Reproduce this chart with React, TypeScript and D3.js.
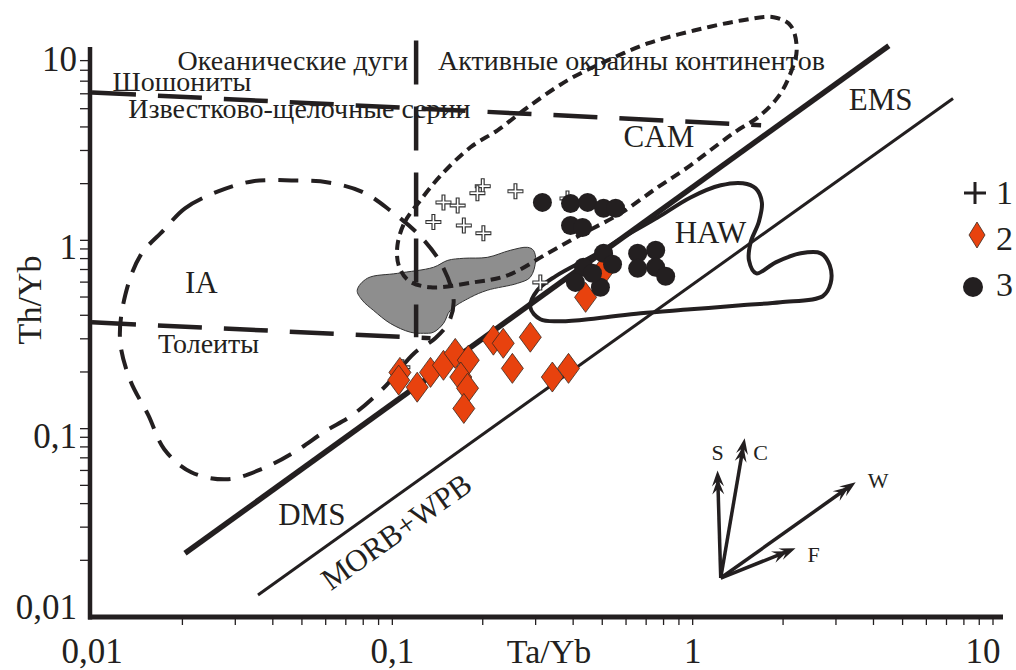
import React from "react";
import * as d3 from "d3";

type Pt = [number, number];

const WIDTH = 1016;
const HEIGHT = 670;
const SERIF = '"Liberation Serif", "Times New Roman", "DejaVu Serif", serif';
const INK = "#231f20";
const RED = "#e8420e";
const GREY = "#8e8e8e";

// axis ticks + labels
const xTicks = [0.01, 0.1, 1, 10];
const xTickLabels = ["0,01", "0,1", "1", "10"];
const yTicks = [0.01, 0.1, 1, 10];
const yTickLabels = ["0,01", "0,1", "1", "10"];
const xTitle = "Ta/Yb";
const yTitle = "Th/Yb";

// samples: [Ta/Yb, Th/Yb]
const group1: Pt[] = [
  [0.2, 1.94], [0.192, 1.78], [0.148, 1.59], [0.165, 1.53], [0.137, 1.25],
  [0.173, 1.2], [0.201, 1.09], [0.257, 1.82], [0.311, 0.598], [0.108, 0.212],
  [0.383, 1.67],
];
const group2: Pt[] = [
  [0.106, 0.199], [0.105, 0.181], [0.121, 0.166], [0.134, 0.199], [0.148, 0.217],
  [0.162, 0.251], [0.179, 0.231], [0.169, 0.188], [0.178, 0.164], [0.173, 0.128],
  [0.217, 0.295], [0.234, 0.284], [0.251, 0.209], [0.288, 0.306], [0.341, 0.188],
  [0.386, 0.209], [0.44, 0.498], [0.505, 0.693],
];
const group3: Pt[] = [
  [0.316, 1.59], [0.392, 1.57], [0.447, 1.59], [0.505, 1.48], [0.554, 1.48],
  [0.392, 1.2], [0.43, 1.17], [0.505, 0.853], [0.433, 0.719], [0.407, 0.598],
  [0.493, 0.563], [0.541, 0.746], [0.656, 0.853], [0.753, 0.885], [0.656, 0.71],
  [0.753, 0.719], [0.813, 0.644], [0.464, 0.668],
];

// fields
const iaField: Pt[] = [
  [0.0173, 1.13], [0.0204, 1.48], [0.0263, 1.82], [0.0344, 2.06], [0.0461, 2.08],
  [0.0612, 2.03], [0.08, 1.8], [0.099, 1.43], [0.124, 1.05], [0.147, 0.728],
  [0.16, 0.481], [0.154, 0.367], [0.139, 0.302], [0.118, 0.251], [0.0955, 0.17],
  [0.0736, 0.118], [0.0598, 0.097], [0.0471, 0.075], [0.0372, 0.0616], [0.0284, 0.0539],
  [0.0214, 0.0587], [0.0174, 0.0778], [0.0154, 0.118], [0.0134, 0.181], [0.0124, 0.295],
  [0.0129, 0.511], [0.0145, 0.832],
];
const camField: Pt[] = [
  [0.104, 0.941], [0.11, 1.25], [0.124, 1.63], [0.145, 2.21], [0.182, 3.12],
  [0.224, 3.84], [0.282, 5.08], [0.383, 7.07], [0.521, 9.02], [0.708, 11.1],
  [1.01, 13.0], [1.45, 14.7], [1.86, 15.3], [2.12, 13.8], [2.22, 10.2],
  [2.09, 7.33], [1.92, 5.74], [1.65, 4.5], [1.41, 3.84], [1.18, 3.12],
  [0.962, 2.44], [0.764, 1.91], [0.575, 1.39], [0.433, 1.09], [0.329, 0.853],
  [0.242, 0.652], [0.186, 0.598], [0.134, 0.563], [0.113, 0.613], [0.105, 0.737],
];
const hawField: Pt[] = [
  [0.288, 0.441], [0.304, 0.543], [0.349, 0.644], [0.482, 0.853], [0.589, 1.04],
  [0.764, 1.32], [0.984, 1.69], [1.24, 1.96], [1.47, 2.01], [1.62, 1.89],
  [1.7, 1.59], [1.66, 1.25], [1.56, 0.976], [1.54, 0.783], [1.63, 0.668],
  [1.89, 0.764], [2.29, 0.853], [2.67, 0.853], [2.86, 0.737], [2.88, 0.591],
  [2.71, 0.505], [1.96, 0.469], [1.45, 0.452], [0.984, 0.43], [0.671, 0.41],
  [0.482, 0.386], [0.363, 0.372], [0.311, 0.381],
];
const greyField: Pt[] = [
  [0.0764, 0.543], [0.0826, 0.629], [0.104, 0.668], [0.137, 0.719], [0.153, 0.783],
  [0.173, 0.803], [0.207, 0.812], [0.247, 0.885], [0.282, 0.918], [0.295, 0.885],
  [0.3, 0.783], [0.288, 0.637], [0.261, 0.591], [0.207, 0.543], [0.182, 0.498],
  [0.156, 0.425], [0.148, 0.362], [0.137, 0.325], [0.127, 0.321], [0.115, 0.325],
  [0.0985, 0.362], [0.0865, 0.425], [0.0794, 0.481],
];

// boundaries
const emsLine: Pt[] = [[0.0204, 0.0218], [4.5, 10.8]];
const morbLine: Pt[] = [[0.0357, 0.0131], [7.36, 5.67]];
const shoshoniteLine: Pt[] = [[0.01, 6.1], [1.69, 4.08]];
const tholeiiteLine: Pt[] = [[0.01, 0.367], [0.134, 0.302]];
const arcLine: Pt[] = [[0.12, 11.5], [0.12, 0.306]];

// process vectors
const vectorOrigin: Pt = [1.24, 0.0161];
const vectorNames = ["S", "C", "W", "F"];
const vectorTips: Pt[] = [[1.21, 0.06], [1.49, 0.089], [3.49, 0.052], [2.2, 0.0232]];

// field names (russian captions)
const captionNames = [
  "Океанические дуги", "Активные окраины континентов", "Шошониты",
  "Известково-щелочные серии", "Толеиты",
];
const captionAnchors: Pt[] = [
  [0.113, 7.99], [0.142, 7.99], [0.0117, 6.2], [0.0132, 4.44], [0.0166, 0.251],
];
// field abbreviations
const fieldNames = ["IA", "CAM", "EMS", "HAW", "DMS"];
const fieldAnchors: Pt[] = [
  [0.0204, 0.523], [0.589, 3.12], [3.31, 4.9], [0.871, 0.964], [0.0417, 0.0307],
];
const morbName = "MORB+WPB";
const morbAnchor: Pt = [0.108, 0.0256];

const legendNames = ["1", "2", "3"];

export default function App() {
  const x = d3.scaleLog().domain([0.01, 10]).range([92, 993]);
  const y = d3.scaleLog().domain([0.01, 10]).range([617, 52]);

  const line = d3.line<Pt>().x((d) => x(d[0])).y((d) => y(d[1]));
  const closed = d3
    .line<Pt>()
    .x((d) => x(d[0]))
    .y((d) => y(d[1]))
    .curve(d3.curveCatmullRomClosed.alpha(0.5));

  const minor: number[] = [];
  [0.01, 0.1, 1].forEach((dec) =>
    d3.range(1, 10).forEach((m) => minor.push(+(m * dec).toPrecision(3)))
  );
  const xMinor = minor.filter((v) => v > 0.01).concat([10]);
  const yMinor = minor.filter((v) => v > 0.01);

  const x0 = x(0.01) - 2;
  const yBase = y(0.01);

  const diamond = (cx: number, cy: number) =>
    `M${cx},${cy - 15}L${cx + 11},${cy}L${cx},${cy + 15}L${cx - 11},${cy}Z`;
  const cross = (cx: number, cy: number, r: number) =>
    `M${cx - r},${cy}H${cx + r}M${cx},${cy - r}V${cy + r}`;

  const ox = x(vectorOrigin[0]);
  const oy = y(vectorOrigin[1]);
  const head = (tx: number, ty: number, ux: number, uy: number) => {
    const nx = -uy, ny = ux;
    return `M${tx},${ty}L${tx - 16 * ux + 6 * nx},${ty - 16 * uy + 6 * ny}L${tx - 10 * ux},${ty - 10 * uy}L${tx - 16 * ux - 6 * nx},${ty - 16 * uy - 6 * ny}Z`;
  };
  const vecLabelOffset: Pt[] = [[0, -10], [16, 22], [12, 6], [12, 14]];
  const vecLabelAnchor = ["middle", "middle", "start", "start"];

  const mp0 = morbLine[0], mp1 = morbLine[1];
  const morbAngle =
    (Math.atan2(y(mp1[1]) - y(mp0[1]), x(mp1[0]) - x(mp0[0])) * 180) / Math.PI;

  return (
    <svg
      width={WIDTH}
      height={HEIGHT}
      style={{ position: "absolute", left: 0, top: 0, background: "#fff" }}
      fontFamily={SERIF}
    >
      <rect width={WIDTH} height={HEIGHT} fill="#fff" />

      {/* grey field */}
      <path d={closed(greyField) || ""} fill={GREY} stroke="#333" strokeWidth={1} />

      {/* discrimination lines */}
      <path d={line(emsLine) || ""} stroke={INK} strokeWidth={5.5} fill="none" />
      <path d={line(morbLine) || ""} stroke={INK} strokeWidth={3} fill="none" />
      <path d={closed(hawField) || ""} stroke={INK} strokeWidth={4} fill="none" />
      <path d={closed(iaField) || ""} stroke={INK} strokeWidth={4} fill="none" strokeDasharray="20 13" />
      <path d={closed(camField) || ""} stroke={INK} strokeWidth={4} fill="none" strokeDasharray="10 6" />
      {[shoshoniteLine, tholeiiteLine, arcLine].map((l, i) => (
        <path key={i} d={line(l) || ""} stroke={INK} strokeWidth={4.5} fill="none" strokeDasharray="44 22" />
      ))}

      {/* samples */}
      {group1.map((d, i) => (
        <g key={"c" + i}>
          <path d={cross(x(d[0]), y(d[1]), 8)} stroke="#333" strokeWidth={4} />
          <path d={cross(x(d[0]), y(d[1]), 7)} stroke="#fff" strokeWidth={1.6} />
        </g>
      ))}
      {group2.map((d, i) => (
        <path key={"d" + i} d={diamond(x(d[0]), y(d[1]))} fill={RED} stroke="#3a2a20" strokeWidth={0.8} />
      ))}
      {group3.map((d, i) => (
        <circle key={"o" + i} cx={x(d[0])} cy={y(d[1])} r={9.5} fill={INK} />
      ))}

      {/* vectors */}
      {vectorTips.map((t, i) => {
        const tx = x(t[0]), ty = y(t[1]);
        const L = Math.hypot(tx - ox, ty - oy);
        const ux = (tx - ox) / L, uy = (ty - oy) / L;
        return (
          <g key={"v" + i}>
            <line x1={ox} y1={oy} x2={tx - 8 * ux} y2={ty - 8 * uy} stroke={INK} strokeWidth={3.5} />
            <path d={head(tx, ty, ux, uy)} fill={INK} />
            <path d={head(tx - 8 * ux, ty - 8 * uy, ux, uy)} fill={INK} />
            <text
              x={tx + vecLabelOffset[i][0]}
              y={ty + vecLabelOffset[i][1]}
              fontSize={22}
              fill={INK}
              textAnchor={vecLabelAnchor[i]}
            >
              {vectorNames[i]}
            </text>
          </g>
        );
      })}

      {/* captions */}
      {captionNames.map((t, i) => (
        <text
          key={"cap" + i}
          x={x(captionAnchors[i][0])}
          y={y(captionAnchors[i][1])}
          fontSize={28}
          fill={INK}
          textAnchor={i === 0 ? "end" : "start"}
        >
          {t}
        </text>
      ))}
      {fieldNames.map((t, i) => (
        <text
          key={"f" + i}
          x={x(fieldAnchors[i][0])}
          y={y(fieldAnchors[i][1])}
          fontSize={31}
          fill={INK}
        >
          {t}
        </text>
      ))}
      <text
        transform={`translate(${x(morbAnchor[0])},${y(morbAnchor[1])}) rotate(${morbAngle})`}
        fontSize={31}
        fill={INK}
        textAnchor="middle"
      >
        {morbName}
      </text>

      {/* axes */}
      <line x1={x0} y1={y(10) - 5} x2={x0} y2={yBase + 2.5} stroke={INK} strokeWidth={4.5} />
      <line x1={x0 - 2} y1={yBase} x2={x(10) + 10} y2={yBase} stroke={INK} strokeWidth={5} />
      {yMinor.map((v) => (
        <line key={"yt" + v} x1={x0 - 10} x2={x0} y1={y(v)} y2={y(v)} stroke={INK} strokeWidth={1.3} />
      ))}
      {xMinor.map((v) => (
        <line key={"xt" + v} x1={x(v)} x2={x(v)} y1={yBase} y2={yBase + 8} stroke={INK} strokeWidth={1.3} />
      ))}
      {yTicks.map((v, i) => (
        <text
          key={"yl" + v}
          x={77}
          y={Math.max(67, Math.min(619, y(v) + 19))}
          fontSize={35}
          fill={INK}
          textAnchor="end"
        >
          {yTickLabels[i]}
        </text>
      ))}
      {xTicks.map((v, i) => (
        <text
          key={"xl" + v}
          x={Math.min(983, x(v))}
          y={663}
          fontSize={35}
          fill={INK}
          textAnchor="middle"
        >
          {xTickLabels[i]}
        </text>
      ))}
      <text x={549} y={663} fontSize={34} fill={INK} textAnchor="middle">
        {xTitle}
      </text>
      <text transform="translate(41,300) rotate(-90)" fontSize={34} fill={INK} textAnchor="middle">
        {yTitle}
      </text>

      {/* legend */}
      <path d={cross(975, 193, 11)} stroke={INK} strokeWidth={3} />
      <path d="M977,222L985,235L977,248L969,235Z" fill={RED} stroke="#3a2a20" strokeWidth={0.8} />
      <circle cx={973} cy={287} r={10} fill={INK} />
      {legendNames.map((t, i) => (
        <text key={"lg" + i} x={996} y={204 + i * 46} fontSize={34} fill={INK}>
          {t}
        </text>
      ))}
    </svg>
  );
}
